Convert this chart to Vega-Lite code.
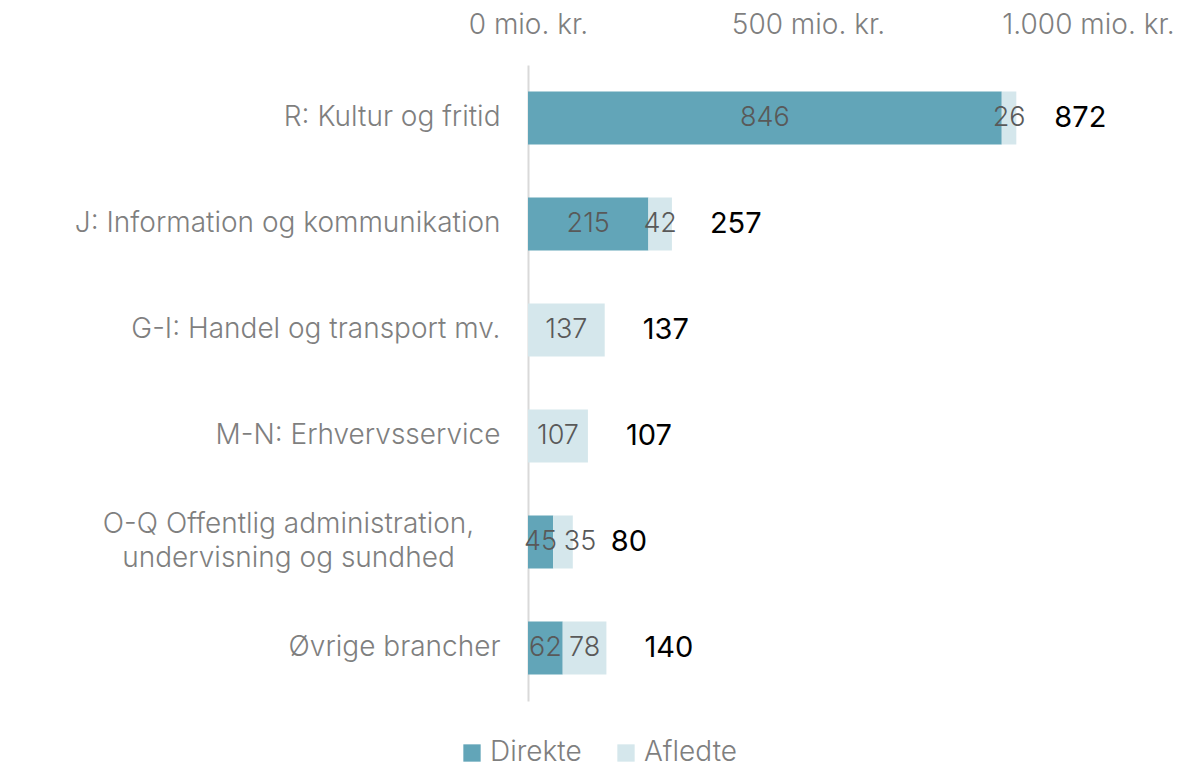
{
  "$schema": "https://vega.github.io/schema/vega-lite/v6.json",
  "width": 560,
  "height": 636,
  "padding": {"left": 0, "top": 0, "right": 0, "bottom": 0},
  "background": "white",
  "config": {"view": {"stroke": null}, "font": "Inter"},
  "data": {
    "values": [
      {"category": "R: Kultur og fritid", "type": "Direkte", "value": 846},
      {"category": "R: Kultur og fritid", "type": "Afledte", "value": 26},
      {"category": "J: Information og kommunikation", "type": "Direkte", "value": 215},
      {"category": "J: Information og kommunikation", "type": "Afledte", "value": 42},
      {"category": "G-I: Handel og transport mv.", "type": "Afledte", "value": 137},
      {"category": "M-N: Erhvervsservice", "type": "Afledte", "value": 107},
      {"category": "O-Q Offentlig administration, undervisning og sundhed", "type": "Direkte", "value": 45},
      {"category": "O-Q Offentlig administration, undervisning og sundhed", "type": "Afledte", "value": 35},
      {"category": "Øvrige brancher", "type": "Direkte", "value": 62},
      {"category": "Øvrige brancher", "type": "Afledte", "value": 78}
    ]
  },
  "transform": [
    {"stack": "value", "groupby": ["category"], "sort": [{"field": "type", "order": "descending"}], "as": ["s", "e"]}
  ],
  "encoding": {
    "y": {
      "field": "category",
      "type": "nominal",
      "sort": null,
      "title": null,
      "scale": {"paddingInner": 0.5, "paddingOuter": 0.25},
      "axis": {
        "domain": true,
        "domainColor": "#D9D9D9",
        "domainWidth": 2,
        "ticks": false,
        "minExtent": 528,
        "maxExtent": 528,
        "labelFontSize": 28,
        "labelFontWeight": 300,
        "labelColor": "#7F7F7F",
        "labelLimit": 600,
        "labelLineHeight": 34,
        "labelAlign": {"condition": {"test": "indexof(datum.value, 'O-Q') == 0", "value": "center"}, "value": "right"},
        "labelPadding": {"condition": {"test": "indexof(datum.value, 'O-Q') == 0", "value": 240}, "value": 28},
        "labelOffset": {"condition": {"test": "indexof(datum.value, 'O-Q') == 0", "value": -17}, "value": 0},
        "labelExpr": "indexof(datum.value, 'O-Q') == 0 ? ['O-Q Offentlig administration,', 'undervisning og sundhed'] : datum.label"
      }
    }
  },
  "layer": [
    {
      "mark": {"type": "bar"},
      "encoding": {
        "x": {
          "field": "s",
          "type": "quantitative",
          "title": null,
          "scale": {"domain": [0, 1000]},
          "axis": {
            "orient": "top",
            "values": [0, 500, 1000],
            "domain": false,
            "ticks": false,
            "grid": false,
            "labelFlush": false,
            "labelFontSize": 28,
            "labelFontWeight": 300,
            "labelColor": "#7F7F7F",
            "labelBaseline": "alphabetic",
            "labelPadding": 32,
            "minExtent": 65,
            "maxExtent": 65,
            "labelExpr": "replace(format(datum.value, ',d'), ',', '.') + ' mio. kr.'"
          }
        },
        "x2": {"field": "e"},
        "color": {
          "field": "type",
          "type": "nominal",
          "scale": {"domain": ["Direkte", "Afledte"], "range": ["#62A5B8", "#D5E7EC"]},
          "legend": {
            "title": null,
            "orient": "none",
            "legendX": -70,
            "legendY": 674,
            "direction": "horizontal",
            "symbolType": "square",
            "symbolSize": 300,
            "symbolStrokeWidth": 0,
            "labelFontSize": 28,
            "labelFontWeight": 300,
            "labelColor": "#7F7F7F",
            "columnPadding": 30
          }
        }
      }
    },
    {
      "transform": [
        {"fold": ["s", "e"], "as": ["k", "pos"]},
        {"aggregate": [{"op": "mean", "field": "pos", "as": "mid"}, {"op": "min", "field": "pos", "as": "start"}], "groupby": ["category", "type", "value"]}
      ],
      "mark": {
        "type": "text",
        "fontSize": 27,
        "fontWeight": 300,
        "color": "#595959",
        "dx": {"expr": "datum.type == 'Afledte' && datum.start > 0 && datum.start < 50 ? 17 : 0"}
      },
      "encoding": {
        "x": {"field": "mid", "type": "quantitative"},
        "text": {"field": "value", "type": "quantitative"}
      }
    },
    {
      "transform": [
        {"aggregate": [{"op": "sum", "field": "value", "as": "total"}], "groupby": ["category"]}
      ],
      "mark": {"type": "text", "align": "left", "dx": 38, "fontSize": 29, "color": "#000000"},
      "encoding": {
        "x": {"field": "total", "type": "quantitative"},
        "text": {"field": "total", "type": "quantitative"}
      }
    }
  ]
}
